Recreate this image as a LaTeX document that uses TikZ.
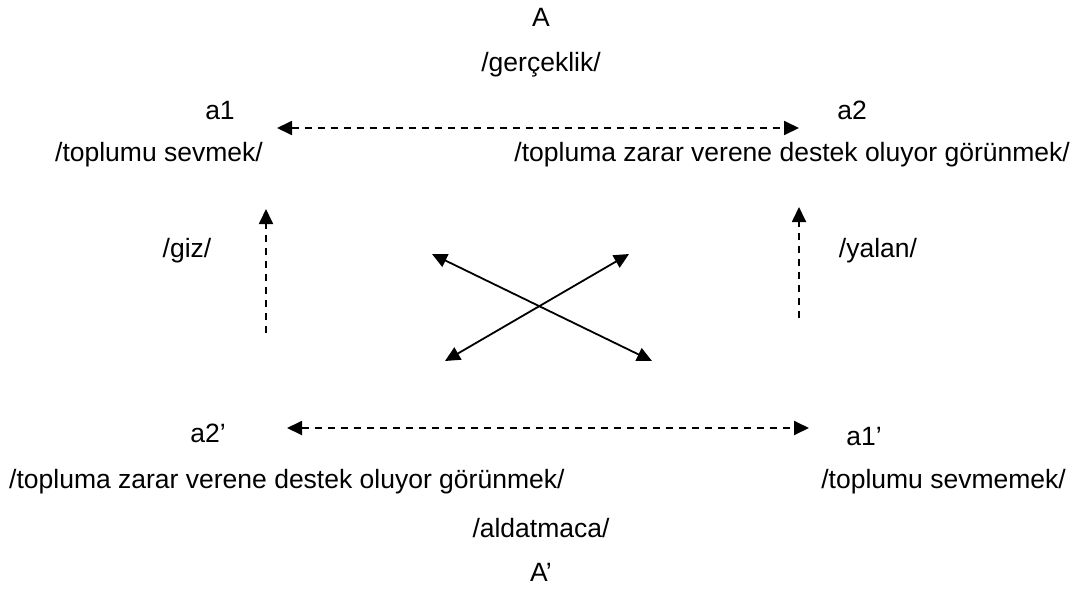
\documentclass[tikz,border=0pt]{standalone}
\usepackage{fontspec}
\setmainfont{Liberation Sans}
\usetikzlibrary{arrows.meta}
\begin{document}
\begin{tikzpicture}[x=1pt,y=-1pt,
  lbl/.style={anchor=base,inner sep=0pt,font=\fontsize{26.5}{30}\selectfont},
  lblr/.style={lbl,anchor=base east},
  lbll/.style={lbl,anchor=base west},
  dl/.style={line width=1.8pt,dash pattern=on 7pt off 6pt},
  sl/.style={line width=1.8pt},
  tip/.style={-{Triangle[length=15pt,width=14pt]}},
  tips/.style={{Triangle[length=15pt,width=14pt]}-{Triangle[length=15pt,width=14pt]}}]
\useasboundingbox (0,0) rectangle (1082,592);
\node[lbl] (A) at (541,26) {A};
\node[lbl] (ger) at (541,71) {/gerçeklik/};
\node[lbl] (a1) at (220,119) {a1};
\node[lbl] (a2) at (852,119) {a2};
\node[lblr] (t1) at (263,161) {/toplumu sevmek/};
\node[lblr] (t2) at (1070,161) {/topluma zarar verene destek oluyor görünmek/};
\node[lbl] (giz) at (187,257) {/giz/};
\node[lbl] (yal) at (878,257) {/yalan/};
\node[lbl] (b2) at (208,442) {a2’};
\node[lbl] (b1) at (864,445) {a1’};
\node[lbll] (t3) at (9,488) {/topluma zarar verene destek oluyor görünmek/};
\node[lblr] (t4) at (1066,488) {/toplumu sevmemek/};
\node[lbl] (ald) at (541,537) {/aldatmaca/};
\node[lbl] (Ap) at (541,581) {A’};
\coordinate (h1l) at (277,128);
\coordinate (h1r) at (799,128);
\coordinate (h2l) at (287,428);
\coordinate (h2r) at (809,428);
\coordinate (v1b) at (266,333);
\coordinate (v1t) at (266,209);
\coordinate (v2b) at (799,318);
\coordinate (v2t) at (799,207);
\coordinate (xtl) at (432,254);
\coordinate (xbr) at (652,361);
\coordinate (xtr) at (629,254);
\coordinate (xbl) at (445,361);
\draw[dl,tips] (h1l) -- (h1r);
\draw[dl,tips] (h2l) -- (h2r);
\draw[dl,tip] (v1b) -- (v1t);
\draw[dl,tip] (v2b) -- (v2t);
\draw[sl,tips] (xtl) -- (xbr);
\draw[sl,tips] (xbl) -- (xtr);
\end{tikzpicture}
\end{document}
